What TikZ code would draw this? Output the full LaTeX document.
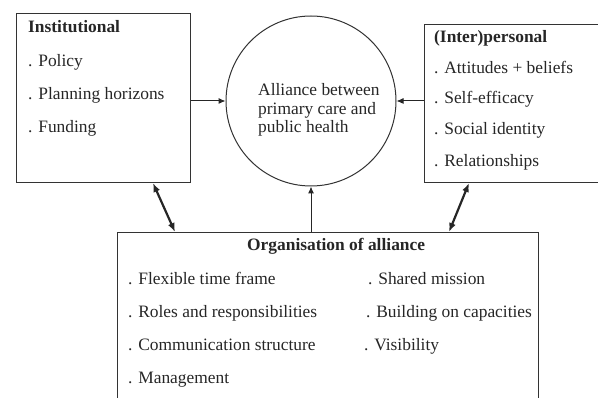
\documentclass[tikz,border=0pt]{standalone}
\usepackage{fontspec}
\setmainfont{Liberation Serif}
\usetikzlibrary{positioning,arrows.meta}

\begin{document}
\begin{tikzpicture}[x=1pt, y=-1pt,
block/.style = {rectangle, draw=black!80, line width=1pt, inner sep=0pt, anchor=north west},
item/.style = {anchor=base west, inner sep=0pt, text=black!85, font=\fontsize{17.4}{20}\selectfont},
head/.style = {item, font=\fontsize{17.4}{20}\selectfont\bfseries},
link/.style = {-{Latex[length=7pt,width=6pt]}, line width=1pt, draw=black!85},
dlink/.style = {{Latex[length=9pt,width=7pt]}-{Latex[length=9pt,width=7pt]}, line width=2.2pt, draw=black!85}]
\clip (0,0) rectangle (598,398);

% the three groups of factors
\node[block, minimum width=174pt, minimum height=169pt] at (16,13) (inst) {};
\node[block, minimum width=190pt, minimum height=158pt] at (424,24) (inter) {};
\node[block, minimum width=421pt, minimum height=200pt] at (117,232) (org) {};
\node[circle, draw=black!80, line width=1pt, minimum size=170pt, inner sep=0pt] at (311,101) (alliance) {};

% Institutional
\node[head] at (28,33) (insthead) {Institutional};
\node[item] at (28,67) (policy) {. Policy};
\node[item] at (28,100) (planning) {. Planning horizons};
\node[item] at (28,133) (funding) {. Funding};

% (Inter)personal
\node[head] at (434,43) (interhead) {(Inter)personal};
\node[item] at (434,74) (attitudes) {. Attitudes + beliefs};
\node[item] at (434,104) (efficacy) {. Self-efficacy};
\node[item] at (434,135) (identity) {. Social identity};
\node[item] at (434,167) (relations) {. Relationships};

% alliance
\node[item] at (258,96) (al1) {Alliance between};
\node[item] at (258,115) (al2) {primary care and};
\node[item] at (258,133) (al3) {public health};

% Organisation of alliance
\node[head] at (247,251) (orghead) {Organisation of alliance};
\node[item] at (128,285) (timeframe) {. Flexible time frame};
\node[item] at (128,318) (roles) {. Roles and responsibilities};
\node[item] at (128,351) (communication) {. Communication structure};
\node[item] at (128,384) (management) {. Management};
\node[item] at (368,285) (mission) {. Shared mission};
\node[item] at (366,318) (capacities) {. Building on capacities};
\node[item] at (364,351) (visibility) {. Visibility};

\draw[link] (inst.east |- alliance.west) -- (alliance.west);
\draw[link] (inter.west |- alliance.east) -- (alliance.east);
\draw[link] (org.north -| alliance.south) -- (alliance.south);
\draw[dlink] ([xshift=-38pt]inst.south east) -- ([xshift=58pt]org.north west);
\draw[dlink] ([xshift=45pt]inter.south west) -- ([xshift=-90pt]org.north east);
\end{tikzpicture}
\end{document}
